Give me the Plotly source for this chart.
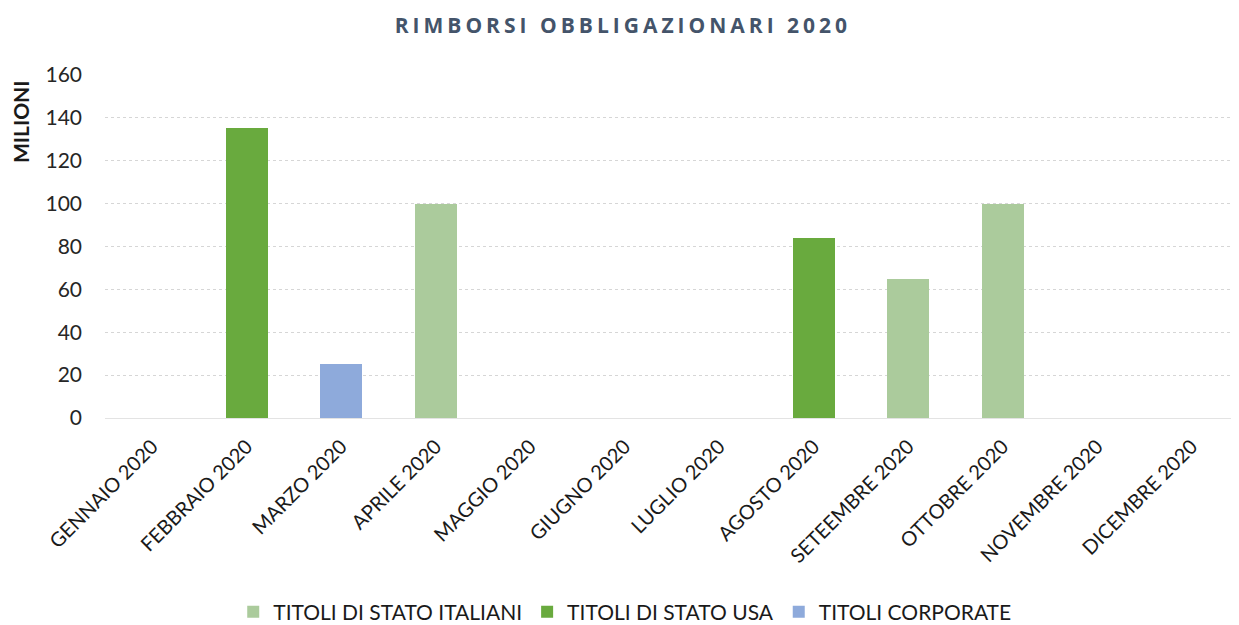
import plotly.graph_objects as go

months = ["GENNAIO 2020", "FEBBRAIO 2020", "MARZO 2020", "APRILE 2020", "MAGGIO 2020",
          "GIUGNO 2020", "LUGLIO 2020", "AGOSTO 2020", "SETEEMBRE 2020", "OTTOBRE 2020",
          "NOVEMBRE 2020", "DICEMBRE 2020"]
titoli_italiani = [0, 0, 0, 100, 0, 0, 0, 0, 65, 100, 0, 0]
titoli_usa = [0, 135, 0, 0, 0, 0, 0, 84, 0, 0, 0, 0]
titoli_corporate = [0, 0, 25, 0, 0, 0, 0, 0, 0, 0, 0, 0]
y_ticks = [0, 20, 40, 60, 80, 100, 120, 140, 160]

FONT = "Lato"

fig = go.Figure()
fig.add_trace(go.Bar(x=months, y=titoli_italiani, name="TITOLI DI STATO ITALIANI",
                     marker=dict(color="#abcb9c", line=dict(width=0)), width=0.44))
fig.add_trace(go.Bar(x=months, y=titoli_usa, name="TITOLI DI STATO USA",
                     marker=dict(color="#69aa3e", line=dict(width=0)), width=0.44))
fig.add_trace(go.Bar(x=months, y=titoli_corporate, name="TITOLI CORPORATE",
                     marker=dict(color="#8eaadb", line=dict(width=0)), width=0.44))

fig.update_layout(
    barmode="stack",
    width=1231, height=617,
    paper_bgcolor="white", plot_bgcolor="white",
    margin=dict(l=97, r=0, t=66, b=207),
    font=dict(family=FONT, color="#262626"),
    title=dict(text="<b>RIMBORSI OBBLIGAZIONARI 2020</b>", x=0.4995, xanchor="center",
               xref="container", y=0.972, yanchor="middle", yref="container",
               font=dict(family="Open Sans", size=21, color="#44546a")),
    xaxis=dict(tickangle=-45, tickfont=dict(size=20, color="#1a1a1a"), showgrid=False,
               showline=True, linecolor="#e3e3e3", linewidth=1, ticks="",
               ticklabelstandoff=8, range=[-0.5, 11.5], fixedrange=True),
    yaxis=dict(range=[0, 160.4], tickvals=y_ticks, tickfont=dict(size=21, color="#262626"),
               showgrid=True, gridcolor="#d6d6d6", griddash="dot", gridwidth=1,
               zeroline=False, ticks="", ticklabelstandoff=22, fixedrange=True),
    legend=dict(orientation="h", x=0.501, xanchor="center", xref="container",
                y=0.021, yanchor="middle", yref="container",
                font=dict(size=21, color="#1a1a1a"), itemwidth=30,
                traceorder="normal", bgcolor="rgba(0,0,0,0)"),
    annotations=[dict(text="<b>MILIONI</b>", textangle=-90, xref="paper", yref="paper",
                      x=-0.075, y=0.863, xanchor="center", yanchor="middle",
                      showarrow=False, font=dict(size=21, color="#1a1a1a"))],
    bargap=0.56,
)

post = """
var t = document.querySelectorAll('.gtitle');
t.forEach(function(el){ el.style.letterSpacing = '4px'; });
"""
fig.write_html("out.html", post_script=post)
